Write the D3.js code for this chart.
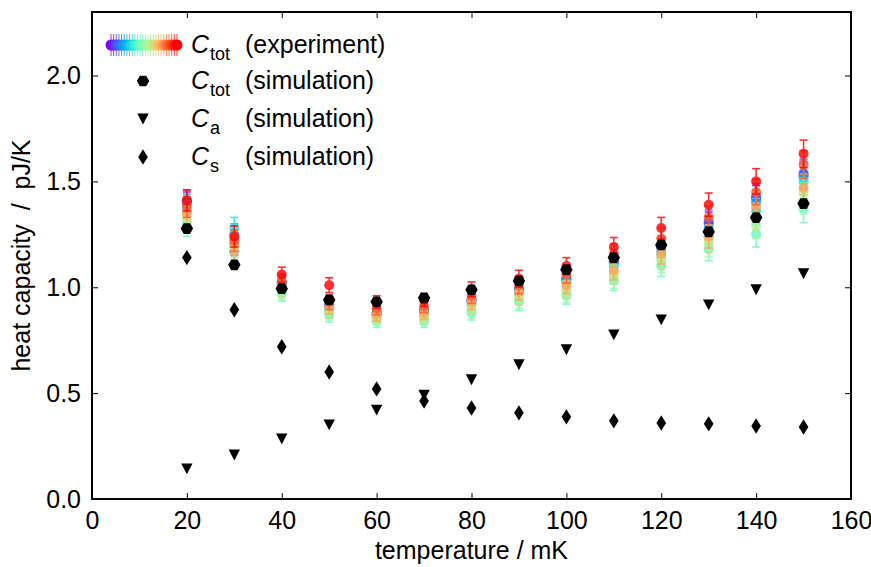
<!DOCTYPE html>
<html>
<head>
<meta charset="utf-8">
<script src="https://cdn.jsdelivr.net/npm/d3@7"></script>
<style>
  html, body { margin: 0; padding: 0; background: #fff; }
  svg text { font-family: "Liberation Sans", Arial, sans-serif; fill: #000; }
</style>
</head>
<body>
<svg id="chart" width="871" height="567"></svg>
<script>
// Temperatures (mK) at which the heat capacity was measured / simulated
const temps = [20, 30, 40, 50, 60, 70, 80, 90, 100, 110, 120, 130, 140, 150];

// Simulated heat capacities (pJ/K)
const simTotal = [1.277, 1.106, 0.993, 0.941, 0.931, 0.950, 0.988, 1.030, 1.083, 1.140, 1.200, 1.262, 1.329, 1.395];
const simA     = [0.142, 0.208, 0.284, 0.350, 0.420, 0.490, 0.563, 0.634, 0.705, 0.775, 0.846, 0.917, 0.988, 1.064];
const simS     = [1.140, 0.894, 0.719, 0.600, 0.520, 0.463, 0.430, 0.407, 0.388, 0.369, 0.359, 0.355, 0.345, 0.340];

// Measured total heat capacity, one run per colour (violet -> red)
const run0 = [1.40, 1.17, 1.02, 0.92, 0.88, 0.89, 0.94, 0.99, 1.04, 1.12, 1.19, 1.30, 1.42, 1.53];
const run1 = [1.41, 1.20, 1.02, 0.91, 0.88, 0.89, 0.94, 0.99, 1.04, 1.12, 1.19, 1.31, 1.43, 1.54];
const run2 = [1.39, 1.25, 1.01, 0.90, 0.87, 0.88, 0.93, 0.98, 1.03, 1.11, 1.17, 1.28, 1.40, 1.52];
const run3 = [1.36, 1.28, 1.00, 0.89, 0.86, 0.87, 0.92, 0.97, 1.02, 1.10, 1.15, 1.24, 1.36, 1.50];
const run4 = [1.29, 1.22, 0.97, 0.87, 0.84, 0.84, 0.88, 0.93, 0.96, 1.03, 1.10, 1.18, 1.25, 1.37];
const run5 = [1.31, 1.19, 0.98, 0.88, 0.85, 0.85, 0.89, 0.94, 0.97, 1.04, 1.12, 1.20, 1.29, 1.41];
const run6 = [1.33, 1.17, 0.99, 0.89, 0.86, 0.86, 0.91, 0.96, 0.99, 1.06, 1.14, 1.22, 1.33, 1.45];
const run7 = [1.35, 1.20, 1.01, 0.91, 0.87, 0.88, 0.93, 0.98, 1.01, 1.08, 1.16, 1.24, 1.38, 1.47];
const run8 = [1.38, 1.22, 1.03, 0.93, 0.90, 0.91, 0.96, 1.01, 1.06, 1.16, 1.23, 1.33, 1.45, 1.58];
const run9 = [1.41, 1.24, 1.06, 1.01, 0.93, 0.94, 0.99, 1.04, 1.10, 1.19, 1.28, 1.39, 1.50, 1.63];
const runs = [run0, run1, run2, run3, run4, run5, run6, run7, run8, run9];

// Measurement uncertainty per temperature (pJ/K)
const errs = [0.05, 0.05, 0.035, 0.035, 0.03, 0.03, 0.035, 0.04, 0.04, 0.045, 0.05, 0.055, 0.06, 0.065];

const xTicks = [0, 20, 40, 60, 80, 100, 120, 140, 160];
const yTicks = [0.0, 0.5, 1.0, 1.5, 2.0];

// Rainbow colour map: violet -> blue -> cyan -> green -> yellow -> red
function rainbow(t) {
  const r = Math.min(1, Math.abs(2 * t - 0.5));
  const g = Math.sin(t * Math.PI);
  const b = Math.cos(t * Math.PI / 2);
  return d3.rgb(r * 255, g * 255, b * 255).formatHex();
}

const FONT = 25;
const svg = d3.select("#chart");
const margin = { left: 92, right: 20, top: 12, bottom: 68 };
const W = 871, H = 567;
const x = d3.scaleLinear().domain([0, 160]).range([margin.left, W - margin.right]);
const y = d3.scaleLinear().domain([0, 2.3]).range([H - margin.bottom, margin.top]);

// Custom marker shapes
const hexagon = {
  draw(ctx, size) {
    const r = Math.sqrt(size / (1.5 * Math.sqrt(3)));
    for (let i = 0; i < 6; i++) {
      const a = Math.PI / 3 * i;
      const px = r * Math.cos(a), py = r * Math.sin(a);
      if (i === 0) ctx.moveTo(px, py); else ctx.lineTo(px, py);
    }
    ctx.closePath();
  }
};
const triDown = {
  draw(ctx, size) {
    const w = Math.sqrt(size * 2 / 0.95);
    const h = w * 0.95;
    ctx.moveTo(-w / 2, -h / 2);
    ctx.lineTo(w / 2, -h / 2);
    ctx.lineTo(0, h / 2);
    ctx.closePath();
  }
};
const thinDiamond = {
  draw(ctx, size) {
    const w = Math.sqrt(size * 2 / 1.6);
    const h = w * 1.6;
    ctx.moveTo(0, -h / 2);
    ctx.lineTo(w / 2, 0);
    ctx.lineTo(0, h / 2);
    ctx.lineTo(-w / 2, 0);
    ctx.closePath();
  }
};
const hexPath = d3.symbol().type(hexagon).size(100)();
const triPath = d3.symbol().type(triDown).size(62)();
const diaPath = d3.symbol().type(thinDiamond).size(74)();

// Axes: ticks inside on all four sides
const tickLen = 6;
const gx = svg.append("g").attr("transform", `translate(0,${y(0)})`)
  .call(d3.axisBottom(x).tickValues(xTicks).tickFormat(d3.format("d")).tickSizeInner(-tickLen).tickSizeOuter(0).tickPadding(12));
const gxTop = svg.append("g").attr("transform", `translate(0,${margin.top})`)
  .call(d3.axisTop(x).tickValues(xTicks).tickFormat("").tickSizeInner(-tickLen).tickSizeOuter(0));
const gy = svg.append("g").attr("transform", `translate(${x(0)},0)`)
  .call(d3.axisLeft(y).tickValues(yTicks).tickFormat(d3.format(".1f")).tickSizeInner(-tickLen).tickSizeOuter(0).tickPadding(11));
const gyRight = svg.append("g").attr("transform", `translate(${x(160)},0)`)
  .call(d3.axisRight(y).tickValues(yTicks).tickFormat("").tickSizeInner(-tickLen).tickSizeOuter(0));
[gx, gxTop, gy, gyRight].forEach(g => {
  g.select(".domain").remove();
  g.selectAll(".tick line").attr("stroke", "#000").attr("stroke-width", 1);
  g.selectAll(".tick text").attr("font-size", FONT).attr("fill", "#000")
    .attr("font-family", '"Liberation Sans", Arial, sans-serif');
});
gx.selectAll(".tick text").attr("dy", "0.71em");

// Frame
svg.append("rect")
  .attr("x", x(0)).attr("y", y(2.3))
  .attr("width", x(160) - x(0)).attr("height", y(0) - y(2.3))
  .attr("fill", "none").attr("stroke", "#000").attr("stroke-width", 2);

// Axis titles
svg.append("text")
  .attr("x", (x(0) + x(160)) / 2).attr("y", 559)
  .attr("text-anchor", "middle").attr("font-size", FONT)
  .text("temperature / mK");
svg.append("text")
  .attr("transform", `translate(30,${(y(0) + y(2.3)) / 2}) rotate(-90)`)
  .attr("text-anchor", "middle").attr("font-size", FONT)
  .attr("xml:space", "preserve")
  .text("heat capacity  /  pJ/K");

// Experimental runs with error bars
const plot = svg.append("g");
const capW = 4;
runs.forEach((run, i) => {
  const col = rainbow(i / (runs.length - 1));
  const g = plot.append("g").attr("opacity", 0.8);
  run.forEach((v, j) => {
    const cx = x(temps[j]);
    const e = errs[j];
    g.append("line").attr("x1", cx).attr("x2", cx).attr("y1", y(v - e)).attr("y2", y(v + e))
      .attr("stroke", col).attr("stroke-width", 1.6);
    [v - e, v + e].forEach(ev => {
      g.append("line").attr("x1", cx - capW).attr("x2", cx + capW).attr("y1", y(ev)).attr("y2", y(ev))
        .attr("stroke", col).attr("stroke-width", 1.6);
    });
  });
  g.selectAll("circle").data(run).join("circle")
    .attr("cx", (d, j) => x(temps[j])).attr("cy", d => y(d))
    .attr("r", 5).attr("fill", col);
});

// Simulation markers
plot.append("g").selectAll("path").data(simS).join("path")
  .attr("d", diaPath).attr("fill", "#000")
  .attr("transform", (d, j) => `translate(${x(temps[j])},${y(d)})`);
plot.append("g").selectAll("path").data(simA).join("path")
  .attr("d", triPath).attr("fill", "#000")
  .attr("transform", (d, j) => `translate(${x(temps[j])},${y(d)})`);
plot.append("g").selectAll("path").data(simTotal).join("path")
  .attr("d", hexPath).attr("fill", "#000")
  .attr("transform", (d, j) => `translate(${x(temps[j])},${y(d)})`);

// Legend
const legend = svg.append("g");
const lgX = 143;
const rows = [45, 81, 119, 157];
// experiment entry: a strip of rainbow-coloured markers with error bars
const nStrip = 26;
for (let k = 0; k < nStrip; k++) {
  const t = k / (nStrip - 1);
  const cx = 111 + t * 66;
  const col = rainbow(t);
  legend.append("line").attr("x1", cx).attr("x2", cx).attr("y1", rows[0] - 11).attr("y2", rows[0] + 11)
    .attr("stroke", col).attr("stroke-width", 1).attr("opacity", 0.8);
  legend.append("circle").attr("cx", cx).attr("cy", rows[0]).attr("r", 5.5).attr("fill", col);
}
legend.append("path").attr("d", hexPath).attr("transform", `translate(${lgX},${rows[1]})`);
legend.append("path").attr("d", triPath).attr("transform", `translate(${lgX},${rows[2]})`);
legend.append("path").attr("d", diaPath).attr("transform", `translate(${lgX},${rows[3]})`);

const labels = [
  { sub: "tot", rest: "(experiment)" },
  { sub: "tot", rest: "(simulation)" },
  { sub: "a", rest: "(simulation)" },
  { sub: "s", rest: "(simulation)" }
];
labels.forEach((l, i) => {
  const ty = rows[i] + 8;
  const t = legend.append("text").attr("x", 191).attr("y", ty).attr("font-size", FONT);
  t.append("tspan").attr("font-style", "italic").text("C");
  t.append("tspan").attr("font-size", 18).attr("dx", 1).attr("dy", 7).text(l.sub);
  legend.append("text").attr("x", 245).attr("y", ty).attr("font-size", FONT).text(l.rest);
});
</script>
</body>
</html>
